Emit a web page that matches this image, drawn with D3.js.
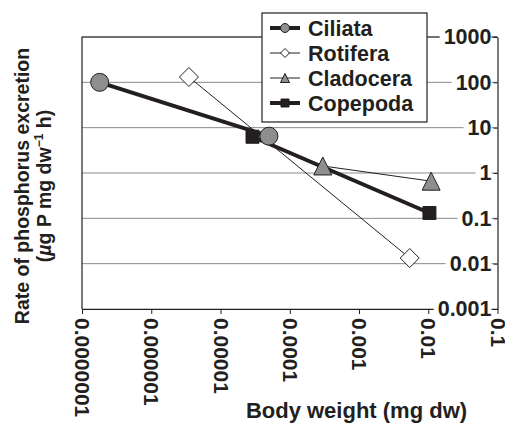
<!DOCTYPE html>
<html>
<head>
<meta charset="utf-8">
<script src="https://cdn.jsdelivr.net/npm/d3@7"></script>
<style>
  body { margin: 0; background: #fff; }
  text { font-family: "Liberation Sans", Arial, sans-serif; font-weight: bold; fill: #231f20; }
</style>
</head>
<body>
<svg id="chart" width="505" height="423"></svg>
<script>
// body weight (mg dw) and P excretion rate, two points per group
const seriesNames = ["Ciliata", "Rotifera", "Cladocera", "Copepoda"];
const ciliataWeight = [1.8e-7, 5.0e-5];
const ciliataRate = [100, 6.5];
const rotiferaWeight = [3.5e-6, 5.4e-3];
const rotiferaRate = [131, 0.0133];
const cladoceraWeight = [3.0e-4, 1.1e-2];
const cladoceraRate = [1.43, 0.66];
const copepodaWeight = [2.9e-5, 1.04e-2];
const copepodaRate = [6.3, 0.131];

const xTickValues = [1e-7, 1e-6, 1e-5, 1e-4, 1e-3, 1e-2, 1e-1];
const xTickLabels = ["0.0000001", "0.000001", "0.00001", "0.0001", "0.001", "0.01", "0.1"];
const yTickValues = [0.001, 0.01, 0.1, 1, 10, 100, 1000];
const yTickLabels = ["0.001", "0.01", "0.1", "1", "10", "100", "1000"];

const ink = "#231f20";
const grey = "#8e8e8e";

const svg = d3.select("#chart");
const width = +svg.attr("width");
const height = +svg.attr("height");

const x = d3.scaleLog().domain([1e-7, 1e-1]).range([82, 497.5]);
const y = d3.scaleLog().domain([0.001, 1000]).range([309, 37]);

// marker shapes, drawn around (0,0)
function markerPath(kind, s) {
  const p = d3.path();
  if (kind === "circle") {
    p.arc(0, 0, s, 0, 2 * Math.PI);
  } else if (kind === "diamond") {
    p.moveTo(0, -s); p.lineTo(s, 0); p.lineTo(0, s); p.lineTo(-s, 0); p.closePath();
  } else if (kind === "triangle") {
    p.moveTo(0, -s); p.lineTo(s, s); p.lineTo(-s, s); p.closePath();
  } else {
    p.rect(-s, -s, 2 * s, 2 * s);
  }
  return p.toString();
}

const series = [
  { name: seriesNames[0], pts: d3.zip(ciliataWeight, ciliataRate), kind: "circle", size: 9, fill: grey, lw: 4, legSize: 4.5 },
  { name: seriesNames[1], pts: d3.zip(rotiferaWeight, rotiferaRate), kind: "diamond", size: 9.5, fill: "#fff", lw: 1, legSize: 4.5 },
  { name: seriesNames[2], pts: d3.zip(cladoceraWeight, cladoceraRate), kind: "triangle", size: 9, fill: grey, lw: 1, legSize: 4.5 },
  { name: seriesNames[3], pts: d3.zip(copepodaWeight, copepodaRate), kind: "square", size: 6.5, fill: ink, lw: 4, legSize: 4 }
];

// gridlines
svg.append("g")
  .selectAll("line")
  .data(yTickValues)
  .join("line")
  .attr("x1", x.range()[0])
  .attr("x2", x.range()[1])
  .attr("y1", d => y(d))
  .attr("y2", d => y(d))
  .attr("stroke", "#8a8a8a")
  .attr("stroke-width", 1);

// frame left + top
svg.append("path")
  .attr("d", `M${x.range()[1]},${y.range()[1]}H${x.range()[0]}V${y.range()[0]}`)
  .attr("fill", "none")
  .attr("stroke", ink)
  .attr("stroke-width", 1.2);

// x axis
const xAxis = d3.axisBottom(x)
  .tickValues(xTickValues)
  .tickFormat((d, i) => xTickLabels[i])
  .tickSize(5)
  .tickSizeOuter(0);

const gx = svg.append("g")
  .attr("transform", "translate(0," + y.range()[0] + ")")
  .call(xAxis);
gx.select(".domain").attr("stroke", ink).attr("stroke-width", 1.2);
gx.selectAll(".tick line").attr("stroke", ink);
gx.selectAll(".tick text")
  .attr("font-size", 21)
  .attr("transform", "rotate(90)")
  .attr("x", 9)
  .attr("y", 0)
  .attr("dy", "0.35em")
  .attr("text-anchor", "start");

// lines and markers
const line = d3.line().x(d => x(d[0])).y(d => y(d[1]));

series.forEach(function (s) {
  svg.append("path")
    .datum(s.pts)
    .attr("d", line)
    .attr("fill", "none")
    .attr("stroke", ink)
    .attr("stroke-width", s.lw);
});

series.forEach(function (s) {
  svg.append("g")
    .selectAll("path")
    .data(s.pts)
    .join("path")
    .attr("transform", d => `translate(${x(d[0])},${y(d[1])})`)
    .attr("d", markerPath(s.kind, s.size))
    .attr("fill", s.fill)
    .attr("stroke", ink)
    .attr("stroke-width", 1);
});

// y axis on the right, labels sit on white boxes over the gridlines
const yAxis = d3.axisLeft(y)
  .tickValues(yTickValues)
  .tickFormat((d, i) => yTickLabels[i])
  .tickSize(4)
  .tickPadding(2)
  .tickSizeOuter(0);

const gy = svg.append("g")
  .attr("transform", "translate(" + x.range()[1] + ",0)")
  .call(yAxis);
gy.select(".domain").attr("stroke", ink).attr("stroke-width", 1.2);
gy.selectAll(".tick line").attr("stroke", ink);
gy.selectAll(".tick text").attr("font-size", 21.5);
gy.selectAll(".tick").each(function () {
  const b = d3.select(this).select("text").node().getBBox();
  d3.select(this).insert("rect", "text")
    .attr("x", b.x - 4)
    .attr("y", b.y + 2)
    .attr("width", b.width + 4)
    .attr("height", b.height - 5)
    .attr("fill", "#fff");
});
gy.select(".domain").raise();

// axis titles
svg.append("text")
  .attr("x", 356.5)
  .attr("y", 418)
  .attr("text-anchor", "middle")
  .attr("font-size", 22)
  .text("Body weight (mg dw)");

const yTitle = svg.append("text")
  .attr("transform", "translate(0,186) rotate(-90)")
  .attr("text-anchor", "middle")
  .attr("font-size", 19.5);
yTitle.append("tspan").attr("x", 0).attr("y", 29).text("Rate of phosphorus excretion");
const t2 = yTitle.append("tspan").attr("x", 0).attr("y", 51);
t2.append("tspan").text("(");
t2.append("tspan").attr("font-style", "italic").text("µ");
t2.append("tspan").text("g P mg dw");
t2.append("tspan").attr("font-size", 12).attr("dy", -8).text("\u22121");
t2.append("tspan").attr("dy", 8).text(" h)");

// legend
const legend = svg.append("g").attr("transform", "translate(262,13)");
legend.append("rect")
  .attr("width", 165)
  .attr("height", 109)
  .attr("fill", "#fff")
  .attr("stroke", ink)
  .attr("stroke-width", 1.2);

const rows = legend.selectAll("g.row")
  .data(series)
  .join("g")
  .attr("class", "row")
  .attr("transform", (d, i) => `translate(0,${15 + i * 25})`);

rows.append("line")
  .attr("x1", 8)
  .attr("x2", 38)
  .attr("stroke", ink)
  .attr("stroke-width", d => d.lw);

rows.append("path")
  .attr("transform", "translate(23,0)")
  .attr("d", d => markerPath(d.kind, d.legSize))
  .attr("fill", d => d.fill)
  .attr("stroke", ink)
  .attr("stroke-width", 1);

rows.append("text")
  .attr("x", 46)
  .attr("dy", "0.35em")
  .attr("font-size", 21.5)
  .text(d => d.name);
</script>
</body>
</html>
